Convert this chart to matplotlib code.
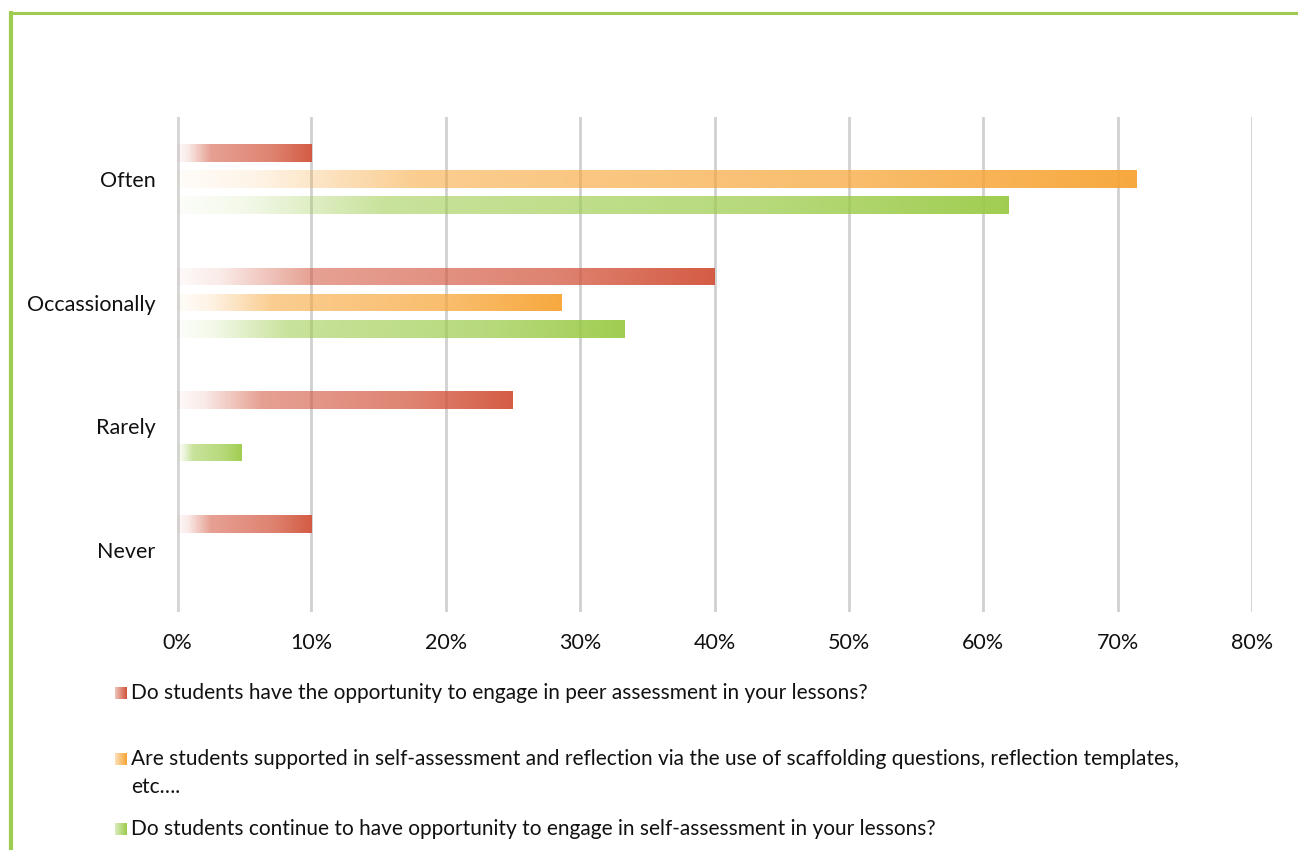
import numpy as np
import matplotlib
matplotlib.use("Agg")
import matplotlib.pyplot as plt
from matplotlib.colors import to_rgb
from matplotlib.lines import Line2D

# ---- data -------------------------------------------------------------
categories = ["Often", "Occassionally", "Rarely", "Never"]
peer_assessment = [10.0, 40.0, 25.0, 10.0]
scaffolded_reflection = [71.4, 28.6, 0.0, 0.0]
self_assessment = [61.9, 33.3, 4.8, 0.0]

series_labels = [
    "Do students have the opportunity to engage in peer assessment in your lessons?",
    "Are students supported in self-assessment and reflection via the use of scaffolding questions, reflection templates,\netc\u2026.",
    "Do students continue to have opportunity to engage in self-assessment in your lessons?",
]
series_values = [peer_assessment, scaffolded_reflection, self_assessment]
series_colors = ["#D2533A", "#F7A434", "#9BCB48"]
xticks = [0, 10, 20, 30, 40, 50, 60, 70, 80]

FONT = ["Lato", "DejaVu Sans"]
plt.rcParams["font.family"] = FONT

W, H = 1298, 850
fig = plt.figure(figsize=(W / 100, H / 100), dpi=100)

# frame around the slide
frame_col = "#9DCC50"
fig.add_artist(Line2D([10.5 / W, 10.5 / W], [0, 1 - 12.5 / H], transform=fig.transFigure,
                      color=frame_col, lw=3, solid_capstyle="projecting"))
fig.add_artist(Line2D([10.5 / W, 1], [1 - 12.5 / H, 1 - 12.5 / H], transform=fig.transFigure,
                      color=frame_col, lw=2.2, solid_capstyle="projecting"))

ax = fig.add_axes([177 / W, 1 - 612 / H, 1075 / W, 495 / H])


def gradient_rgba(color, n=256):
    r, g, b = to_rgb(color)
    t = np.linspace(0, 1, n)
    alpha = np.interp(t, [0, 0.08, 0.25, 0.7, 1.0], [0.03, 0.12, 0.55, 0.72, 0.95])
    img = np.zeros((1, n, 4))
    img[..., 0], img[..., 1], img[..., 2], img[..., 3] = r, g, b, alpha
    return img


y = np.arange(len(categories))
offsets = [-0.211, 0.0, 0.211]
bar_h = 0.142

for vals, col, off in zip(series_values, series_colors, offsets):
    bars = ax.barh(y + off, vals, height=bar_h, color="none", edgecolor="none", zorder=2)
    grad = gradient_rgba(col)
    for p, v in zip(bars.patches, vals):
        if v <= 0:
            continue
        x0, y0 = p.get_x(), p.get_y()
        w, h = p.get_width(), p.get_height()
        im = ax.imshow(grad, extent=(x0, x0 + w, y0 + h, y0), aspect="auto",
                       interpolation="bilinear", zorder=2)
        im.set_clip_path(p)

ax.set_xlim(0, 80)
ax.set_ylim(len(categories) - 0.5, -0.5)
ax.set_xticks(xticks)
ax.set_xticklabels([f"{t}%" for t in xticks])
ax.set_yticks(y)
ax.set_yticklabels(categories)
ax.tick_params(axis="both", length=0, labelsize=15.5, colors="#111111")
ax.tick_params(axis="y", pad=15.5)
ax.tick_params(axis="x", pad=15)
for s in ax.spines.values():
    s.set_visible(False)
ax.grid(axis="x", color="#D0D0D0", lw=2, zorder=1)
ax.axvline(0, color="#D6D6D6", lw=3.5, zorder=1)
ax.set_axisbelow(True)

# legend with gradient swatches
legend_rows = [693, 759, 829]
line_step = 28
for label, col, ry in zip(series_labels, series_colors, legend_rows):
    sw = fig.add_axes([115 / W, 1 - (ry + 6) / H, 11 / W, 12 / H])
    r, g, b = to_rgb(col)
    n = 32
    img = np.zeros((1, n, 4))
    img[..., 0], img[..., 1], img[..., 2] = r, g, b
    img[..., 3] = np.linspace(0.35, 1.0, n)
    sw.imshow(img, aspect="auto", extent=(0, 1, 0, 1))
    sw.set_axis_off()
    for i, line in enumerate(label.split("\n")):
        fig.text(131 / W, 1 - (ry + 6 + i * line_step) / H, line, fontsize=15,
                 color="#111111", va="baseline", ha="left")

fig.savefig("out.png", dpi=100, facecolor="white")
